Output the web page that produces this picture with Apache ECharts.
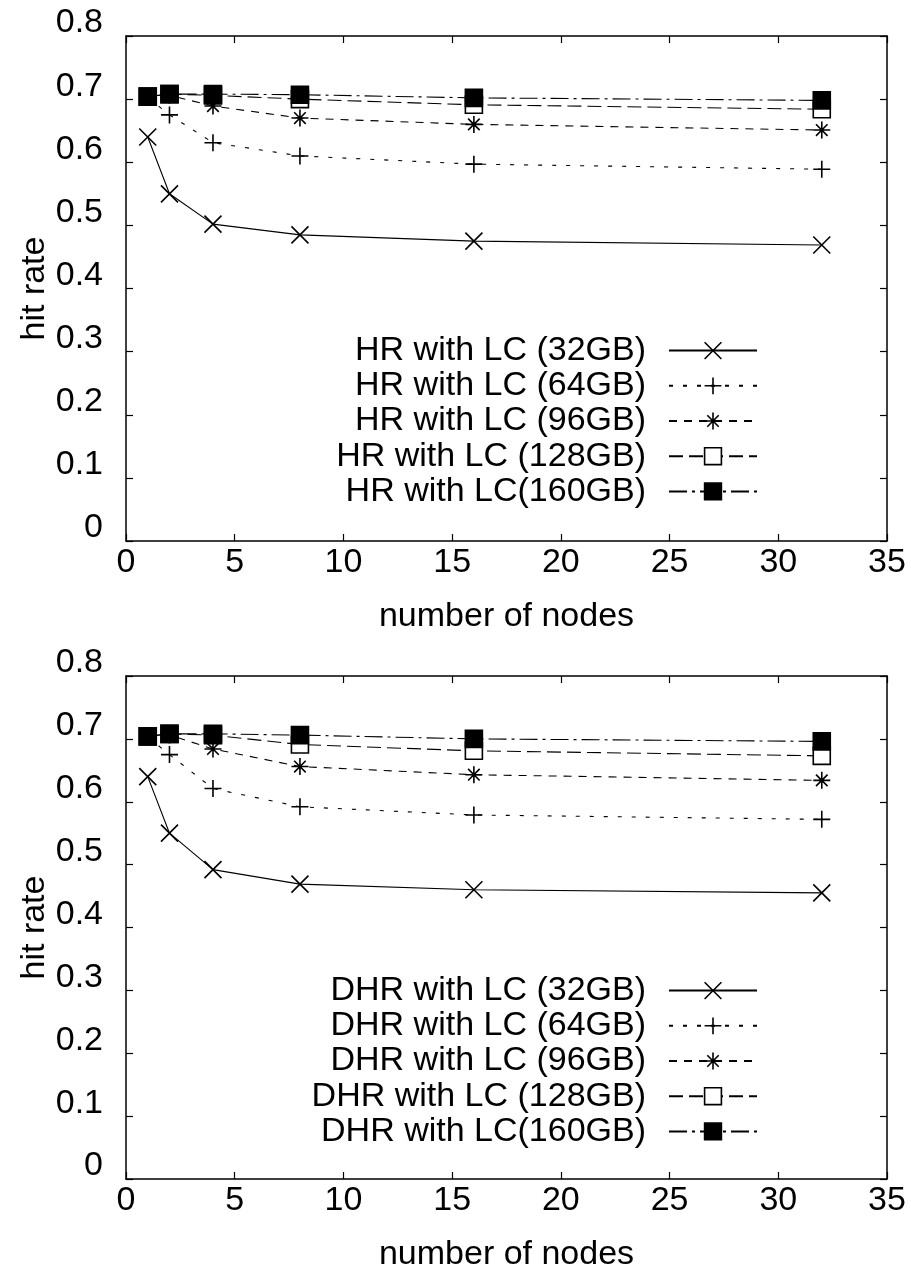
<!DOCTYPE html>
<html>
<head>
<meta charset="utf-8">
<script src="https://cdn.jsdelivr.net/npm/echarts@6/dist/echarts.min.js"></script>
<style>
  html, body { margin: 0; padding: 0; background: #fff; }
  #chart { width: 911px; height: 1273px; }
</style>
</head>
<body>
<div id="chart"></div>
<script>
// Number of nodes on the x axis
const nodes = [1, 2, 4, 8, 16, 32];

// Hit rate (HR) with local cache of each size
const hr32  = [0.640, 0.550, 0.502, 0.485, 0.475, 0.469];
const hr64  = [0.703, 0.675, 0.631, 0.610, 0.597, 0.589];
const hr96  = [0.704, 0.706, 0.689, 0.670, 0.660, 0.651];
const hr128 = [0.704, 0.708, 0.706, 0.700, 0.691, 0.684];
const hr160 = [0.704, 0.708, 0.708, 0.707, 0.702, 0.698];

// Hit rate (DHR) with local cache of each size
const dhr32  = [0.640, 0.550, 0.492, 0.469, 0.460, 0.455];
const dhr64  = [0.703, 0.675, 0.621, 0.592, 0.579, 0.572];
const dhr96  = [0.704, 0.706, 0.684, 0.656, 0.643, 0.634];
const dhr128 = [0.704, 0.708, 0.706, 0.691, 0.681, 0.673];
const dhr160 = [0.704, 0.708, 0.708, 0.706, 0.700, 0.696];

const hrNames  = ['HR with LC (32GB)', 'HR with LC (64GB)', 'HR with LC (96GB)', 'HR with LC (128GB)', 'HR with LC(160GB)'];
const dhrNames = ['DHR with LC (32GB)', 'DHR with LC (64GB)', 'DHR with LC (96GB)', 'DHR with LC (128GB)', 'DHR with LC(160GB)'];

const FONT = 'Liberation Sans, Arial, Helvetica, sans-serif';
const INK = '#000';

// Point and line style per cache size
const styles = [
  { symbol: 'path://M0,0L10,10M10,0L0,10', fill: INK, dash: 'solid' },
  { symbol: 'path://M5,0L5,10M0,5L10,5', fill: INK, dash: [4, 10] },
  { symbol: 'path://M5,0L5,10M0,5L10,5M1.6,1.6L8.4,8.4M8.4,1.6L1.6,8.4', fill: INK, dash: [8, 7] },
  { symbol: 'path://M0,0L10,0L10,10L0,10Z', fill: '#fff', dash: [14, 6] },
  { symbol: 'path://M0,0L10,0L10,10L0,10Z', fill: INK, dash: [18, 5, 3, 5] }
];

function buildSeries(names, sets, axisIdx) {
  return sets.map((vals, i) => ({
    name: names[i],
    type: 'line',
    xAxisIndex: axisIdx,
    yAxisIndex: axisIdx,
    data: nodes.map((n, k) => [n, vals[k]]),
    symbol: styles[i].symbol,
    symbolSize: 17,
    symbolKeepAspect: true,
    itemStyle: { color: styles[i].fill, borderColor: INK, borderWidth: 1.6 },
    lineStyle: { color: INK, width: 1.1, type: styles[i].dash },
    emphasis: { disabled: true },
    animation: false,
    z: 2 + i
  }));
}

function xAxes(gridIndex) {
  const base = {
    type: 'value', gridIndex, min: 0, max: 35, interval: 5,
    splitLine: { show: false },
    axisLine: { onZero: false, lineStyle: { color: INK, width: 1.5 } },
    axisTick: { inside: true, length: 7, lineStyle: { color: INK, width: 1.2 } }
  };
  return [
    Object.assign({}, base, {
      position: 'bottom',
      axisLabel: { color: INK, fontFamily: FONT, fontSize: 34, lineHeight: 34, margin: 5 },
      name: 'number of nodes', nameLocation: 'middle', nameGap: 59, nameMoveOverlap: false,
      nameTextStyle: { color: INK, fontFamily: FONT, fontSize: 34, lineHeight: 34 }
    }),
    Object.assign({}, base, { position: 'top', axisLabel: { show: false } })
  ];
}

function yAxes(gridIndex) {
  const base = {
    type: 'value', gridIndex, min: 0, max: 0.8, interval: 0.1,
    splitLine: { show: false },
    axisLine: { onZero: false, lineStyle: { color: INK, width: 1.5 } },
    axisTick: { inside: true, length: 7, lineStyle: { color: INK, width: 1.2 } }
  };
  return [
    Object.assign({}, base, {
      position: 'left',
      axisLabel: { color: INK, fontFamily: FONT, fontSize: 34, lineHeight: 26, verticalAlign: 'bottom', margin: 23 },
      name: 'hit rate', nameLocation: 'middle', nameGap: 74, nameMoveOverlap: false,
      nameTextStyle: { color: INK, fontFamily: FONT, fontSize: 34, lineHeight: 34 }
    }),
    Object.assign({}, base, { position: 'right', axisLabel: { show: false } })
  ];
}

function legendFor(names, top) {
  return {
    data: names,
    orient: 'vertical',
    align: 'right',
    right: 153,
    top: top,
    padding: 0,
    itemGap: 0,
    itemWidth: 88,
    itemHeight: 21,
    selectedMode: false,
    itemStyle: { borderWidth: 1.6 },
    textStyle: { color: INK, fontFamily: FONT, fontSize: 34, lineHeight: 35.2, padding: [0, 18, 0, 0] }
  };
}

const chart = echarts.init(document.getElementById('chart'), null, { renderer: 'canvas' });
chart.setOption({
  backgroundColor: '#fff',
  animation: false,
  grid: [
    { left: 126, right: 24, top: 36, height: 505 },
    { left: 126, right: 24, top: 676, height: 505 }
  ],
  xAxis: [...xAxes(0), ...xAxes(1)],
  yAxis: [...yAxes(0), ...yAxes(1)],
  legend: [legendFor(hrNames, 333), legendFor(dhrNames, 973)],
  series: [
    ...buildSeries(hrNames, [hr32, hr64, hr96, hr128, hr160], 0),
    ...buildSeries(dhrNames, [dhr32, dhr64, dhr96, dhr128, dhr160], 2)
  ]
});
</script>
</body>
</html>
